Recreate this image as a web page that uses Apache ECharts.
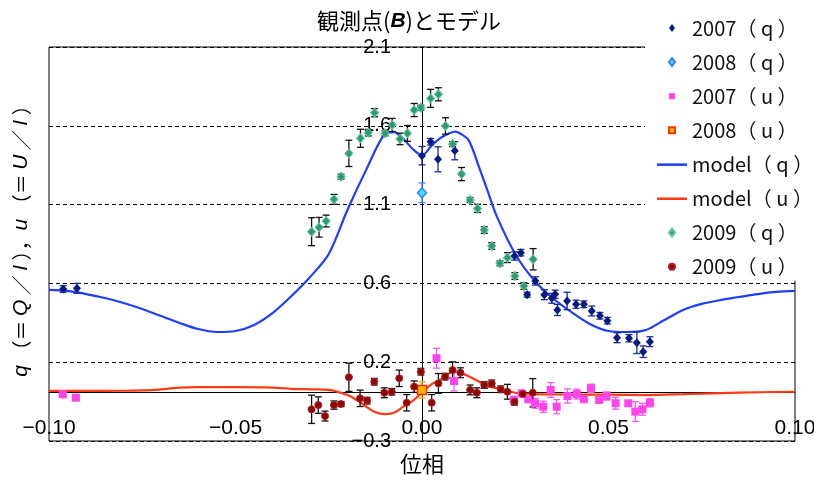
<!DOCTYPE html>
<html><head><meta charset="utf-8">
<script src="https://cdn.jsdelivr.net/npm/echarts@6/dist/echarts.min.js"></script>
<style>html,body{margin:0;padding:0;background:#fff}#c{width:814px;height:481px}</style>
</head><body><div id="c"></div>
<script>
// ---- axis ticks ----
const xTickValues = [-0.10, -0.05, 0.00, 0.05, 0.10];
const xTickLabels = ['−0.10', '−0.05', '0.00', '0.05', '0.10'];
const yTickValues = [-0.3, 0.18, 0.66, 1.14, 1.62, 2.1];
const yTickLabels = ['−0.3', '0.2', '0.6', '1.1', '1.6', '2.1'];

// ---- 2007 (q) ----
const q2007Phase = [-0.0962, -0.0925, 0.0000, 0.0023, 0.0043, 0.0088, 0.0248, 0.0265, 0.0282, 0.0304, 0.0328, 0.0348, 0.0357, 0.0363, 0.0389, 0.0413, 0.0434, 0.0455, 0.0477, 0.0497, 0.0523, 0.0555, 0.0576, 0.0593, 0.0611];
const q2007Value = [0.626, 0.630, 1.438, 1.523, 1.416, 1.468, 0.827, 0.847, 0.591, 0.675, 0.591, 0.569, 0.594, 0.498, 0.553, 0.533, 0.533, 0.492, 0.463, 0.433, 0.329, 0.326, 0.299, 0.244, 0.305];
const q2007Err   = [0.02, 0.03, 0.056, 0.02, 0.076, 0.055, 0.025, 0.02, 0.015, 0.025, 0.03, 0.03, 0.025, 0.034, 0.053, 0.025, 0.02, 0.03, 0.02, 0.02, 0.03, 0.022, 0.066, 0.035, 0.03];

// ---- 2008 (q) ----
const q2008Phase = [0.0000];
const q2008Value = [1.212];
const q2008Err   = [0.06];

// ---- 2007 (u) ----
const u2007Phase = [-0.0963, -0.0928, 0.0039, 0.0086, 0.0246, 0.0267, 0.0285, 0.0303, 0.0325, 0.0345, 0.0361, 0.0390, 0.0415, 0.0434, 0.0453, 0.0475, 0.0495, 0.0519, 0.0553, 0.0572, 0.0591, 0.0611];
const u2007Value = [-0.016, -0.036, 0.204, 0.065, -0.052, -0.009, -0.046, -0.070, -0.091, 0.011, -0.091, -0.026, -0.014, -0.046, 0.021, -0.050, -0.026, -0.070, -0.070, -0.121, -0.107, -0.067];
const u2007Err   = [0.01, 0.01, 0.06, 0.06, 0.025, 0.015, 0.015, 0.03, 0.034, 0.045, 0.043, 0.043, 0.03, 0.015, 0.025, 0.015, 0.025, 0.036, 0.015, 0.06, 0.036, 0.025];

// ---- 2008 (u) ----
const u2008Phase = [0.0000];
const u2008Value = [0.011];
const u2008Err   = [0.05];

// ---- 2009 (q) ----
const q2009Phase = [-0.0296, -0.0276, -0.0257, -0.0236, -0.0217, -0.0196, -0.0165, -0.0144, -0.0127, -0.0099, -0.0080, -0.0059, -0.0039, -0.0021, -0.0003, 0.0023, 0.0044, 0.0063, 0.0082, 0.0106, 0.0129, 0.0149, 0.0167, 0.0187, 0.0209, 0.0229, 0.0249, 0.0273, 0.0298];
const q2009Value = [0.975, 1.002, 1.040, 1.172, 1.310, 1.452, 1.544, 1.578, 1.700, 1.574, 1.625, 1.540, 1.574, 1.716, 1.730, 1.787, 1.812, 1.619, 1.509, 1.326, 1.168, 1.117, 0.985, 0.888, 0.782, 0.817, 0.705, 0.644, 0.807];
const q2009Err   = [0.085, 0.06, 0.036, 0.03, 0.015, 0.08, 0.055, 0.02, 0.025, 0.015, 0.04, 0.035, 0.048, 0.04, 0.015, 0.055, 0.04, 0.05, 0.015, 0.04, 0.015, 0.025, 0.02, 0.02, 0.015, 0.03, 0.02, 0.02, 0.065];

// ---- 2009 (u) ----
const u2009Phase = [-0.0296, -0.0278, -0.0260, -0.0236, -0.0217, -0.0196, -0.0166, -0.0147, -0.0128, -0.0101, -0.0081, -0.0061, -0.0041, -0.0021, -0.0003, 0.0026, 0.0044, 0.0062, 0.0082, 0.0103, 0.0129, 0.0147, 0.0167, 0.0187, 0.0211, 0.0229, 0.0248, 0.0270, 0.0297];
const u2009Value = [-0.107, -0.081, -0.148, -0.081, -0.075, 0.088, -0.040, -0.054, 0.061, -0.006, 0.000, 0.082, -0.067, 0.031, 0.122, -0.067, 0.051, 0.092, 0.132, 0.116, 0.011, -0.006, 0.041, 0.051, 0.015, 0.000, -0.061, -0.014, -0.006];
const u2009Err   = [0.086, 0.05, 0.03, 0.025, 0.015, 0.086, 0.05, 0.02, 0.02, 0.03, 0.02, 0.05, 0.05, 0.035, 0.02, 0.05, 0.06, 0.02, 0.05, 0.03, 0.03, 0.03, 0.02, 0.02, 0.02, 0.045, 0.02, 0.015, 0.086];

// ---- model (q) ----
const modelQPhase = [-0.100, -0.095, -0.090, -0.085, -0.080, -0.075, -0.070, -0.065, -0.060, -0.055, -0.050, -0.045, -0.040, -0.035, -0.030, -0.025, -0.020, -0.015, -0.010, -0.0075, -0.005, -0.0025, 0.000, 0.0025, 0.005, 0.0075, 0.009, 0.010, 0.0125, 0.015, 0.0175, 0.020, 0.025, 0.030, 0.035, 0.040, 0.045, 0.050, 0.055, 0.060, 0.065, 0.070, 0.075, 0.080, 0.085, 0.090, 0.095, 0.100];
const modelQValue = [0.620, 0.614, 0.595, 0.571, 0.541, 0.504, 0.461, 0.419, 0.382, 0.364, 0.370, 0.407, 0.480, 0.583, 0.699, 0.839, 1.107, 1.350, 1.570, 1.582, 1.540, 1.479, 1.439, 1.497, 1.546, 1.576, 1.585, 1.576, 1.533, 1.387, 1.229, 1.071, 0.839, 0.681, 0.571, 0.486, 0.413, 0.370, 0.364, 0.376, 0.437, 0.498, 0.535, 0.559, 0.577, 0.595, 0.608, 0.614];

// ---- model (u) ----
const modelUPhase = [-0.100, -0.090, -0.080, -0.075, -0.070, -0.065, -0.060, -0.050, -0.040, -0.035, -0.030, -0.025, -0.020, -0.0175, -0.015, -0.0125, -0.010, -0.0075, -0.005, -0.0025, 0.000, 0.0025, 0.005, 0.0075, 0.009, 0.010, 0.0125, 0.015, 0.0175, 0.020, 0.025, 0.030, 0.040, 0.050, 0.060, 0.070, 0.080, 0.090, 0.100];
const modelUValue = [0.005, 0.005, 0.006, 0.008, 0.015, 0.025, 0.028, 0.028, 0.025, 0.018, 0.015, 0.012, -0.020, -0.050, -0.090, -0.125, -0.136, -0.128, -0.091, -0.055, -0.005, 0.045, 0.075, 0.115, 0.122, 0.118, 0.095, 0.065, 0.035, 0.021, -0.006, -0.014, -0.017, -0.018, -0.020, -0.015, -0.008, -0.003, 0.000];

const NUM_FONT = '"Liberation Sans", Arial, sans-serif';
const CJK_FONT = '"Noto Sans CJK JP", "Noto Sans", sans-serif';

// legend icons (bounding box 30x8 so they are not stretched)
const ICON_DIAMOND = 'path://M0 0M30 8M15 0L18 4L15 8L12 4Z';
const ICON_SQUARE = 'path://M0 0M30 8M12 1L18 1L18 7L12 7Z';
const ICON_CIRCLE = 'path://M0 0M30 8M15 1A3 3 0 1 1 14.99 1Z';
const ICON_LINE = 'path://M0 0M30 8M0 3L30 3L30 5.5L0 5.5Z';

function zip2(a, b) { return a.map((v, i) => [v, b[i]]); }
function zip3(a, b, c) { return a.map((v, i) => [v, b[i], c[i]]); }
function lookup(vals, labels, v) {
  for (let i = 0; i < vals.length; i++) if (Math.abs(vals[i] - v) < 1e-6) return labels[i];
  return '';
}
function errRender(color) {
  return function (params, api) {
    const x = api.value(0), y = api.value(1), e = api.value(2);
    const t = api.coord([x, y + e]), b = api.coord([x, y - e]);
    const w = 3.5, st = { stroke: color, lineWidth: 1.3 };
    return { type: 'group', children: [
      { type: 'line', shape: { x1: t[0], y1: t[1], x2: b[0], y2: b[1] }, style: st },
      { type: 'line', shape: { x1: t[0] - w, y1: t[1], x2: t[0] + w, y2: t[1] }, style: st },
      { type: 'line', shape: { x1: b[0] - w, y1: b[1], x2: b[0] + w, y2: b[1] }, style: st }
    ]};
  };
}
function errSeries(name, ph, val, err, color) {
  return { name: name, type: 'custom', xAxisIndex: 0, yAxisIndex: 0, z: 3,
    renderItem: errRender(color), data: zip3(ph, val, err), silent: true };
}
function scat(name, ph, val, symbol, size, fill, border, bw) {
  return { name: name, type: 'scatter', xAxisIndex: 0, yAxisIndex: 0, z: 5,
    symbol: symbol, symbolSize: size, data: zip2(ph, val),
    itemStyle: { color: fill, borderColor: border, borderWidth: bw, opacity: 1 } };
}

const N = {
  q07: '2007（ q ）', q08: '2008（ q ）', u07: '2007（ u ）', u08: '2008（ u ）',
  mq: 'model（ q ）', mu: 'model（ u ）', q09: '2009（ q ）', u09: '2009（ u ）'
};
const legendItems = [
  { name: N.q07, icon: ICON_DIAMOND },
  { name: N.q08, icon: ICON_DIAMOND },
  { name: N.u07, icon: ICON_SQUARE },
  { name: N.u08, icon: ICON_SQUARE },
  { name: N.mq, icon: ICON_LINE },
  { name: N.mu, icon: ICON_LINE },
  { name: N.q09, icon: ICON_DIAMOND },
  { name: N.u09, icon: ICON_CIRCLE }
];

const GRID_LEFT = 49, GRID_RIGHT = 19;
const chartW = 814;
// the value axis is drawn through phase 0 (centre of the plot)
const yAxisOffset = -((chartW - GRID_LEFT - GRID_RIGHT) / 2);

const chart = echarts.init(document.getElementById('c'), null, { renderer: 'canvas' });
chart.setOption({
  animation: false,
  backgroundColor: '#fff',
  title: {
    text: '観測点({b|B})とモデル', left: 312, top: 5,
    textStyle: { fontFamily: CJK_FONT, fontSize: 22, fontWeight: 'normal', color: '#000',
      rich: { b: { fontFamily: NUM_FONT, fontStyle: 'italic', fontWeight: 'bold', fontSize: 21, color: '#000' } } }
  },
  grid: { left: GRID_LEFT, right: GRID_RIGHT, top: 47, bottom: 40, show: true, borderColor: '#000', borderWidth: 1,
    backgroundColor: 'transparent', outerBoundsMode: 'none', containLabel: false },
  legend: {
    orient: 'vertical', left: 645, top: 0, padding: [18, 30, 4, 11],
    backgroundColor: '#fff', z: 10,
    itemWidth: 30, itemHeight: 8, itemGap: 14.1,
    data: legendItems,
    textStyle: { fontFamily: CJK_FONT, fontSize: 20, lineHeight: 20, color: '#111' }
  },
  xAxis: [
    { type: 'value', min: -0.1, max: 0.1, interval: 0.05,
      axisLine: { show: true, onZero: true, lineStyle: { color: '#000', width: 1 } },
      axisTick: { show: false }, axisLabel: { show: false }, splitLine: { show: false } },
    { type: 'value', min: -0.1, max: 0.1, interval: 0.05, position: 'bottom',
      axisLine: { show: false, onZero: false }, axisTick: { show: false }, splitLine: { show: false },
      name: '位相', nameLocation: 'middle', nameGap: 12,
      nameTextStyle: { fontFamily: CJK_FONT, fontSize: 22, color: '#000', verticalAlign: 'top' },
      axisLabel: { inside: true, margin: 2, fontFamily: NUM_FONT, fontSize: 21, color: '#000',
        formatter: v => lookup(xTickValues, xTickLabels, v) } }
  ],
  yAxis: {
    type: 'value', min: -0.3, max: 2.1, position: 'left', offset: yAxisOffset,
    axisLine: { show: true, onZero: false, lineStyle: { color: '#000', width: 1 } },
    axisTick: { show: false, customValues: yTickValues },
    axisLabel: { customValues: yTickValues, margin: 31, fontFamily: NUM_FONT, fontSize: 20, color: '#000',
      formatter: v => lookup(yTickValues, yTickLabels, v) },
    splitLine: { show: true, lineStyle: { color: '#000', width: 1, type: [4, 3] } }
  },
  graphic: [{
    type: 'text', x: 21, y: 236, rotation: Math.PI / 2, z: 20,
    style: {
      text: '{i|q} （＝ {i|Q} ／ {i|I} ），{i|u} （＝ {i|U} ／ {i|I} ）',
      align: 'center', verticalAlign: 'middle',
      fontFamily: CJK_FONT, fontSize: 20, fill: '#000',
      rich: { i: { fontFamily: NUM_FONT, fontStyle: 'italic', fontSize: 21, fill: '#000' } }
    }
  }],
  series: [
    { name: N.mq, type: 'line', z: 2, xAxisIndex: 0, yAxisIndex: 0, smooth: 0.3, symbol: 'none',
      data: zip2(modelQPhase, modelQValue), lineStyle: { color: '#1f3dff', width: 2.2 }, itemStyle: { color: '#1f3dff' } },
    { name: N.mu, type: 'line', z: 2, xAxisIndex: 0, yAxisIndex: 0, smooth: 0.3, symbol: 'none',
      data: zip2(modelUPhase, modelUValue), lineStyle: { color: '#ff3a12', width: 2.2 }, itemStyle: { color: '#ff3a12' } },
    scat(N.q07, q2007Phase, q2007Value, 'diamond', [8, 9], '#0a1a80', '#0a1a80', 0),
    errSeries(N.q07, q2007Phase, q2007Value, q2007Err, '#1a2a90'),
    scat(N.q08, q2008Phase, q2008Value, 'diamond', [9, 10], '#40e0ff', '#3a7dff', 1.5),
    errSeries(N.q08, q2008Phase, q2008Value, q2008Err, '#3a8cff'),
    scat(N.u07, u2007Phase, u2007Value, 'rect', 8, '#ff44ee', '#ff44ee', 0),
    errSeries(N.u07, u2007Phase, u2007Value, u2007Err, '#ff55ee'),
    scat(N.u08, u2008Phase, u2008Value, 'rect', 9, '#ffb800', '#ff3300', 1.5),
    errSeries(N.u08, u2008Phase, u2008Value, u2008Err, '#ffaa00'),
    scat(N.q09, q2009Phase, q2009Value, 'diamond', [8, 9], '#2f9a72', '#5fc49a', 1),
    errSeries(N.q09, q2009Phase, q2009Value, q2009Err, '#111'),
    scat(N.u09, u2009Phase, u2009Value, 'circle', 7, '#8a0a0a', '#b02020', 1),
    errSeries(N.u09, u2009Phase, u2009Value, u2009Err, '#111')
  ]
});
</script></body></html>
